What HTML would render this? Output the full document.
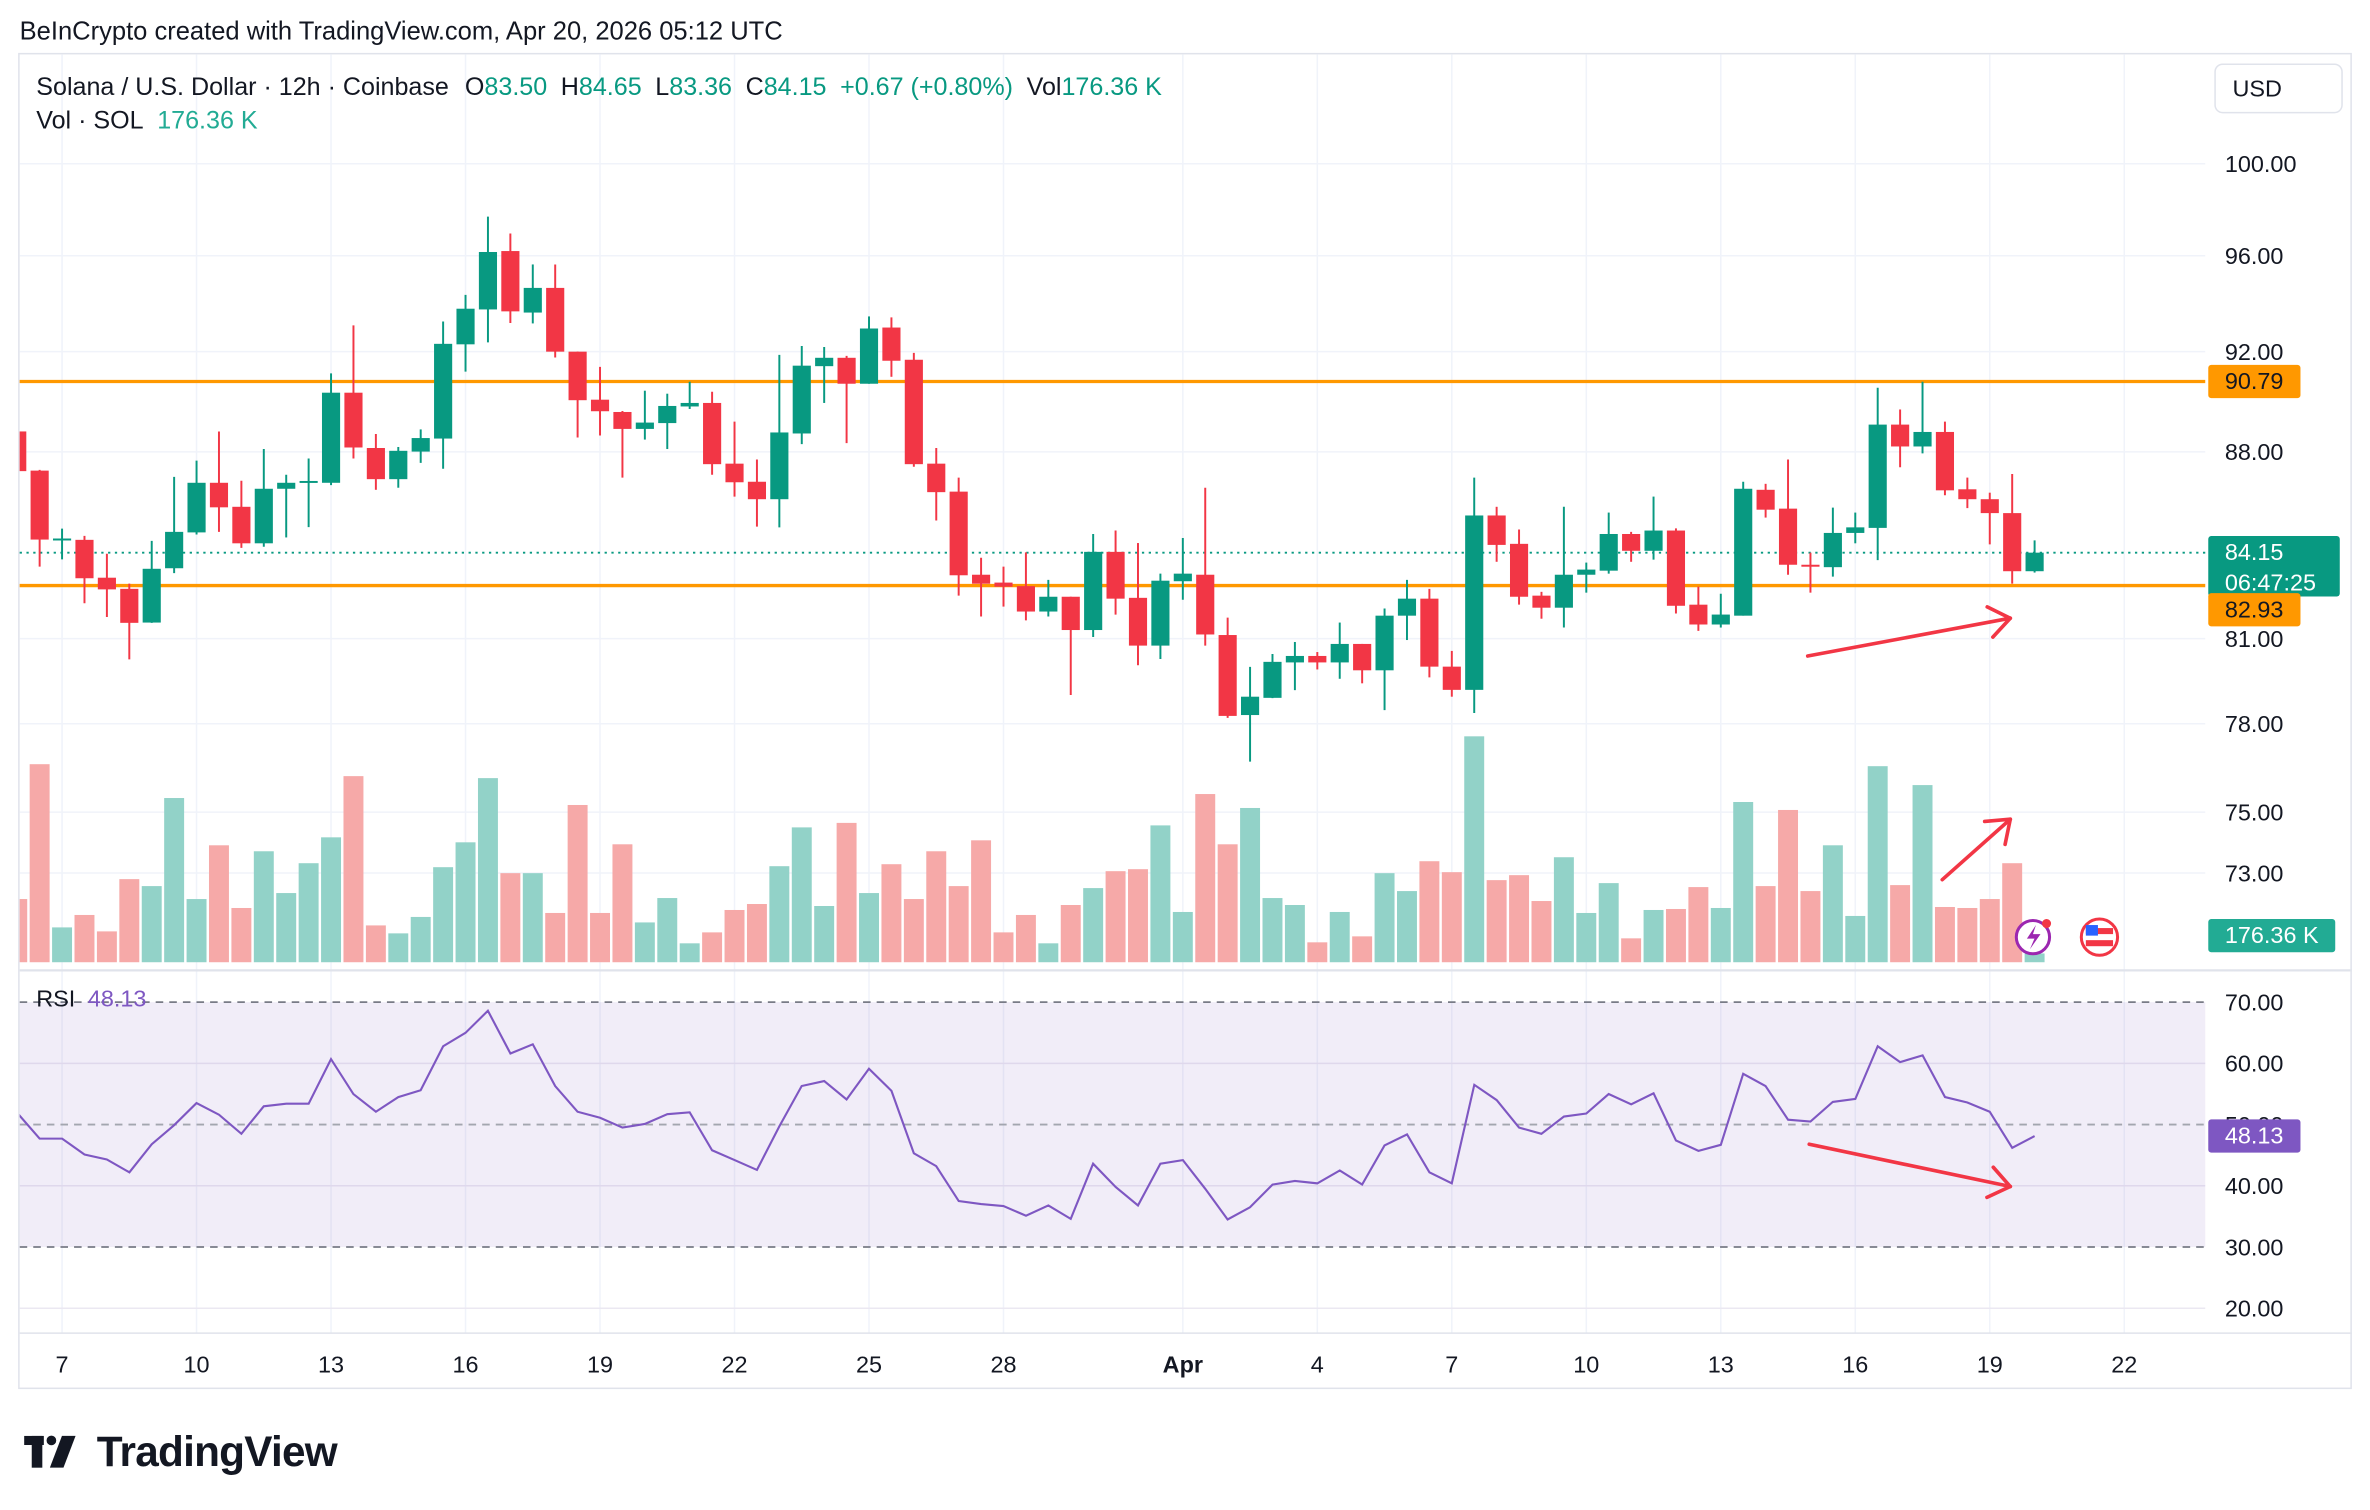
<!DOCTYPE html>
<html><head><meta charset="utf-8">
<style>
html,body{margin:0;padding:0;background:#fff;}
svg{display:block;}
text{font-family:"Liberation Sans",Arial,sans-serif;}
</style></head>
<body>
<svg id="chart" width="2370" height="1510" viewBox="0 0 1568 999" preserveAspectRatio="none" xmlns="http://www.w3.org/2000/svg">
<rect x="0" y="0" width="1568" height="999" fill="#ffffff"/>
<text x="13" y="26" font-size="16.9" fill="#131722">BeInCrypto created with TradingView.com, Apr 20, 2026 05:12 UTC</text>
<rect x="12.5" y="35.5" width="1543" height="883" fill="none" stroke="#e0e3eb" stroke-width="1"/>
<defs><clipPath id="pclip"><rect x="13" y="36" width="1446" height="606"/></clipPath>
<clipPath id="rclip"><rect x="13" y="642" width="1446" height="240"/></clipPath></defs>
<g id="grid"></g>
<rect x="13" y="663" width="1446" height="162" fill="#7e57c2" fill-opacity="0.11"/>
<g id="vol" clip-path="url(#pclip)"></g>
<g id="levels"></g>
<g id="candles" clip-path="url(#pclip)"></g>
<g id="rsi" clip-path="url(#rclip)"></g>
<g id="axis"></g>
<line x1="13" y1="642" x2="1556" y2="642" stroke="#e0e3eb" stroke-width="1.5"/>
<line x1="13" y1="882" x2="1556" y2="882" stroke="#e0e3eb" stroke-width="1"/>
<text x="24" y="63" font-size="16.6" fill="#131722">Solana / U.S. Dollar · 12h · Coinbase <tspan dx="6">O</tspan><tspan fill="#089981">83.50</tspan><tspan dx="9">H</tspan><tspan fill="#089981">84.65</tspan><tspan dx="9">L</tspan><tspan fill="#089981">83.36</tspan><tspan dx="9">C</tspan><tspan fill="#089981">84.15</tspan><tspan dx="9" fill="#089981">+0.67 (+0.80%)</tspan><tspan dx="9">Vol</tspan><tspan fill="#089981">176.36 K</tspan></text>
<text x="24" y="85" font-size="16.6" fill="#131722">Vol · SOL <tspan dx="5" fill="#22ab94">176.36 K</tspan></text>
<rect x="1465.5" y="42.5" width="84" height="32" rx="5" fill="#fff" stroke="#e0e3eb"/>
<text x="1477" y="64" font-size="15.5" fill="#131722">USD</text>
<g>
<rect x="16" y="950" width="13" height="6" fill="#131722"/><rect x="21" y="950" width="7" height="21" fill="#131722"/>
<circle cx="34" cy="953" r="3.2" fill="#131722"/><polygon points="41,950 50,950 42,971 33,971" fill="#131722"/>
<text x="64" y="970" font-size="28" font-weight="bold" fill="#131722" letter-spacing="-0.5">TradingView</text>
</g>
</svg>
<script>
const opens  = [88.80,87.27,84.62,84.63,83.22,82.81,81.58,83.57,84.91,86.80,85.88,84.50,86.57,86.86,86.80,90.34,88.15,86.94,88.01,88.52,92.30,93.74,96.20,93.61,94.64,92.00,90.06,89.57,88.90,89.13,89.79,89.93,87.54,86.84,86.17,88.72,91.41,91.75,90.70,92.99,91.67,87.54,86.46,83.33,83.04,82.91,81.98,82.52,81.31,84.18,82.48,80.75,83.09,83.33,81.13,78.30,78.90,80.15,80.38,80.15,80.81,79.87,81.83,82.45,80.00,79.18,85.55,84.48,82.56,82.12,83.33,83.48,84.85,84.22,84.98,82.23,81.51,81.83,86.53,85.81,83.70,83.61,84.89,85.08,89.07,88.21,88.78,86.55,86.17,85.64,83.46];
const highs  = [88.80,87.30,85.05,84.78,84.11,83.00,84.59,87.03,87.66,88.80,86.88,88.11,87.11,87.74,91.12,93.08,88.70,88.19,88.88,93.24,94.35,97.68,96.95,95.63,95.63,92.00,91.38,89.61,90.42,90.30,90.78,90.38,89.19,87.70,91.87,92.23,92.19,91.83,93.45,93.41,91.95,88.15,87.00,83.96,83.63,84.16,83.14,82.52,84.85,84.98,84.51,83.37,84.70,86.61,81.76,79.99,80.45,80.88,80.52,81.58,80.81,82.09,83.14,82.81,80.56,87.00,85.88,85.02,82.70,85.88,83.78,85.66,84.93,86.27,85.06,82.89,82.63,86.84,86.76,87.70,84.15,85.85,85.66,90.54,89.67,90.78,89.19,87.00,86.42,87.14,84.61];
const lows   = [87.20,83.63,83.90,82.28,81.78,80.26,81.57,83.39,84.83,84.93,84.33,84.37,84.72,85.11,86.71,87.74,86.53,86.61,87.57,87.34,91.19,92.38,93.18,93.16,91.76,88.56,88.64,87.00,88.48,88.11,89.69,87.11,86.27,85.13,85.10,88.30,89.93,88.34,90.70,90.98,87.42,85.36,82.56,81.80,82.16,81.66,81.80,79.00,81.06,81.87,80.05,80.27,82.41,80.75,78.20,76.70,78.89,79.17,79.90,79.57,79.41,78.47,80.95,79.62,78.94,78.37,83.81,82.23,81.72,81.40,82.67,83.37,83.81,83.89,81.91,81.28,81.40,81.83,85.47,83.33,82.67,83.26,84.50,83.87,87.40,87.94,86.32,85.83,84.46,83.00,83.41];
const closes = [87.25,84.64,84.68,83.20,82.79,81.57,83.55,84.93,86.80,85.86,84.50,86.57,86.80,86.87,90.34,88.17,86.94,88.04,88.54,92.32,93.77,96.16,93.66,94.64,92.00,90.04,89.60,88.90,89.15,89.81,89.93,87.52,86.82,86.17,88.76,91.43,91.75,90.70,92.95,91.63,87.52,86.44,83.31,83.00,82.89,81.98,82.52,81.31,84.18,82.45,80.75,83.11,83.37,81.15,78.27,78.94,80.17,80.38,80.15,80.81,79.87,81.83,82.45,80.00,79.18,85.55,84.44,82.52,82.12,83.33,83.52,84.85,84.22,84.98,82.19,81.51,81.87,86.57,85.77,83.70,83.63,84.89,85.10,89.07,88.21,88.78,86.51,86.17,85.64,83.46,84.15];
const volumes = [1270,3980,700,950,620,1670,1530,3300,1270,2350,1090,2230,1390,1990,2510,3740,740,580,910,1910,2410,3700,1790,1790,990,3160,990,2370,800,1290,380,600,1050,1170,1930,2710,1130,2800,1390,1970,1270,2230,1530,2450,600,950,380,1150,1490,1830,1870,2750,1010,3380,2370,3100,1290,1150,400,1010,520,1790,1430,2030,1810,4540,1650,1750,1230,2110,990,1590,480,1050,1070,1510,1090,3220,1530,3060,1430,2350,930,3940,1550,3560,1110,1090,1270,1990,176.36];
const rsiValues = [51.9,47.7,47.7,45.1,44.3,42.2,46.8,49.9,53.5,51.6,48.5,53.0,53.4,53.4,60.7,55.0,52.1,54.5,55.6,62.8,65.0,68.6,61.6,63.1,56.3,52.1,51.1,49.5,50.1,51.7,52.0,45.8,44.2,42.6,49.7,56.3,57.1,54.1,59.1,55.5,45.3,43.2,37.5,37.0,36.7,35.1,36.8,34.6,43.6,39.8,36.8,43.6,44.2,39.5,34.5,36.5,40.2,40.8,40.4,42.5,40.2,46.6,48.4,42.2,40.4,56.5,54.0,49.5,48.5,51.3,51.8,55.0,53.3,55.1,47.4,45.7,46.7,58.3,56.3,50.8,50.5,53.7,54.2,62.8,60.2,61.3,54.5,53.6,52.1,46.2,48.13];
const priceTicks = [100,96,92,88,81,78,75,73];
const rsiTicks = [70,60,50,40,30,20];
const dayLabels = ['7','10','13','16','19','22','25','28','Apr','4','7','10','13','16','19','22'];
const dayOffsets = [0,3,6,9,12,15,18,21,25,28,31,34,37,40,43,46];
const levelValues = [90.79, 82.93];
const lastPrice = 84.15;

const NS='http://www.w3.org/2000/svg';
const xOf = i => 11.4 + 14.83*i;
const xDay = d => xOf(2 + 2*d);
const yP = p => 169.2 + 1491*Math.log(96/p);
const VOL_BASE = 636.6;
const yV = v => VOL_BASE - v*0.03292;
const yR = r => 663 + (70-r)*4.05;
function mk(tag, attrs, parent){const e=document.createElementNS(NS,tag);for(const k in attrs)e.setAttribute(k,attrs[k]);parent.appendChild(e);return e;}
const G=id=>document.getElementById(id);
const GREEN='#089981', RED='#f23645';

const grid=G('grid');
dayOffsets.forEach((d,k)=>{
  const l=mk('line',{x1:xDay(d),x2:xDay(d),y1:36,y2:882,stroke:'#f0f3fa','stroke-width':1},grid);
  
  
});
priceTicks.forEach(p=>{
  const l=mk('line',{x1:13,x2:1459,y1:yP(p),y2:yP(p),stroke:'#f0f3fa','stroke-width':1},grid);
  
  
});
[60,40,20].forEach(r=>{
  const l=mk('line',{x1:13,x2:1459,y1:yR(r),y2:yR(r),stroke:'#ebe8f2','stroke-width':1},grid);
  
  
});

const vol=G('vol');
volumes.forEach((v,i)=>{
  const up=closes[i]>=opens[i];
  const r=mk('rect',{x:xOf(i)-6.6,y:yV(v),width:13.2,height:VOL_BASE-yV(v),fill:up?'#92d2c8':'#f6a9a8'},vol);
  
  
});

const lv=G('levels');
levelValues.forEach(p=>{
  const l=mk('line',{x1:13,x2:1459,y1:yP(p),y2:yP(p),stroke:'#ff9800','stroke-width':2.2},lv);
  
  
});
const dl=mk('line',{x1:13,x2:1459,y1:yP(lastPrice),y2:yP(lastPrice),stroke:GREEN,'stroke-width':1.2,'stroke-dasharray':'1.5 3'},lv);



const cg=G('candles');
opens.forEach((o,i)=>{
  const c=closes[i], up=c>=o, col=up?GREEN:RED, x=xOf(i);
  const g=mk('g',{},cg);
  
  
  mk('line',{x1:x,x2:x,y1:yP(highs[i]),y2:yP(lows[i]),stroke:col,'stroke-width':1.3},g);
  const top=yP(Math.max(o,c)), bot=yP(Math.min(o,c));
  mk('rect',{x:x-6,y:top,width:12,height:Math.max(1.3,bot-top),fill:col},g);
});

const rg=G('rsi');
[[70,'#787b86'],[50,'#a3a6af'],[30,'#787b86']].forEach(([r,c])=>{
  const l=mk('line',{x1:13,x2:1459,y1:yR(r),y2:yR(r),stroke:c,'stroke-width':1.2,'stroke-dasharray':'5 4'},rg);
  
  
});
const rp=mk('path',{d:rsiValues.map((r,i)=>(i?'L':'M')+xOf(i).toFixed(1)+' '+yR(r).toFixed(1)).join(' '),fill:'none',stroke:'#7e57c2','stroke-width':1.4},rg);



const ax=G('axis');
priceTicks.forEach(p=>{
  const t=mk('text',{x:1472,y:yP(p)+5.5,'font-size':15.5,fill:'#131722'},ax);
  t.textContent=p.toFixed(2);
  
  
});
rsiTicks.forEach(r=>{
  const t=mk('text',{x:1472,y:yR(r)+5.5,'font-size':15.5,fill:'#131722'},ax);
  t.textContent=r.toFixed(2);
  
  
});
dayLabels.forEach((s,k)=>{
  const t=mk('text',{x:xDay(dayOffsets[k]),y:908,'font-size':15.5,fill:'#131722','text-anchor':'middle','font-weight':s==='Apr'?'bold':'normal'},ax);
  t.textContent=s;
  
  
});
function badge(x,y,w,h,fill,lines,tcol,name){
  const g=mk('g',{},ax);
  
  
  mk('rect',{x:x,y:y,width:w,height:h,rx:2,fill:fill},g);
  lines.forEach((s,j)=>{const t=mk('text',{x:x+11,y:y+16+j*20,'font-size':15.5,fill:tcol},g);t.textContent=s;});
}
badge(1461,yP(levelValues[0])-11,61,22,'#ff9800',[levelValues[0].toFixed(2)],'#131722','level-label-high');
badge(1461,yP(lastPrice)-11,87,40,GREEN,[lastPrice.toFixed(2),'06:47:25'],'#ffffff','last-price-label');
badge(1461,yP(levelValues[1])+5,61,22,'#ff9800',[levelValues[1].toFixed(2)],'#131722','level-label-low');
badge(1461,608,84,22,'#22ab94',['176.36 K'],'#ffffff','volume-label');
badge(1461,yR(rsiValues[rsiValues.length-1])-11,61,22,'#7e57c2',[rsiValues[rsiValues.length-1].toFixed(2)],'#ffffff','rsi-value-label');
const rl=mk('text',{x:24,y:666,'font-size':15.5,fill:'#131722'},ax);
rl.textContent='RSI ';


const rv=mk('tspan',{fill:'#7e57c2',dx:4},rl); rv.textContent=rsiValues[rsiValues.length-1].toFixed(2);

function arrow(x1,y1,x2,y2,name){
  const g=mk('g',{stroke:'#f23645','stroke-width':2.4,fill:'none','stroke-linecap':'round'},ax);
  
  
  mk('line',{x1:x1,y1:y1,x2:x2,y2:y2},g);
  const a=Math.atan2(y2-y1,x2-x1),L=17;
  [a+2.5,a-2.5].forEach(b=>mk('line',{x1:x2,y1:y2,x2:x2+L*Math.cos(b),y2:y2+L*Math.sin(b)},g));
}
arrow(1196,434,1330,409,'price-arrow');
arrow(1285,582,1330,542,'volume-arrow');
arrow(1197,757,1330,785,'rsi-arrow');

const ic1=mk('g',{},ax);


mk('circle',{cx:1345,cy:620,r:11,fill:'#fff',stroke:'#9c27b0','stroke-width':2},ic1);
mk('path',{d:'M1347 612 L1341 621 L1346 621 L1343 628 L1350 618 L1345 618 Z',fill:'#9c27b0'},ic1);
mk('circle',{cx:1354,cy:611,r:3,fill:'#f23645'},ic1);
const ic2=mk('g',{},ax);


mk('circle',{cx:1389,cy:620,r:12,fill:'#fff',stroke:'#f23645','stroke-width':2},ic2);
mk('rect',{x:1380,y:614,width:18,height:4,fill:'#f23645'},ic2);
mk('rect',{x:1380,y:622,width:18,height:4,fill:'#f23645'},ic2);
mk('rect',{x:1380,y:612,width:8,height:7,fill:'#2962ff'},ic2);
</script>
</body></html>
